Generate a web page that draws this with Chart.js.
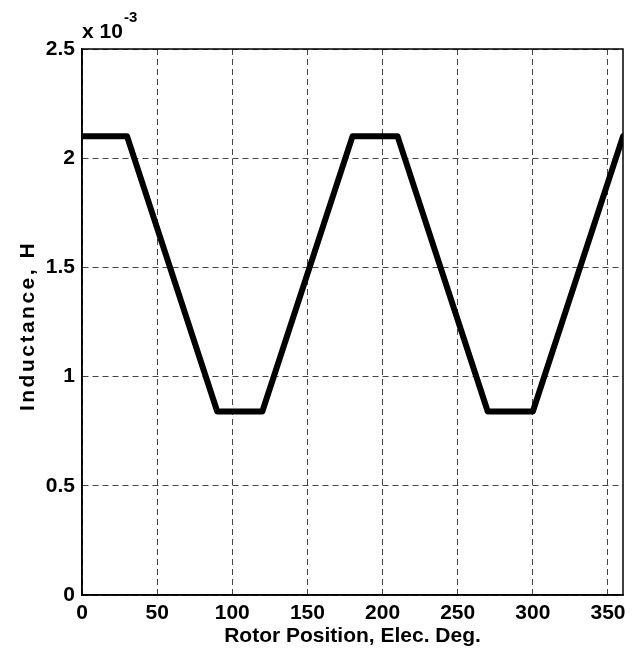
<!DOCTYPE html>
<html>
<head>
<meta charset="utf-8">
<script src="https://cdn.jsdelivr.net/npm/chart.js@4"></script>
<style>
  html, body { margin: 0; padding: 0; background: #fff; }
  #wrap { width: 639px; height: 663px; }
</style>
</head>
<body>
<div id="wrap"><canvas id="indChart" width="639" height="663"></canvas></div>
<script>
// rotor position (elec. deg) and inductance (x 10^-3 H)
const positions = [0, 30, 90, 120, 180, 210, 270, 300, 360];
const inductance = [2.1, 2.1, 0.84, 0.84, 2.1, 2.1, 0.84, 0.84, 2.1];
const xTicks = [0, 50, 100, 150, 200, 250, 300, 350];
const yTicks = [0, 0.5, 1, 1.5, 2, 2.5];

const FONT = "'Liberation Sans', Arial, Helvetica, sans-serif";

// frame, y title and exponent label
const extras = {
    id: 'extras',
    afterDraw(chart) {
        const ctx = chart.ctx;
        const a = chart.chartArea;
        ctx.save();
        ctx.strokeStyle = '#000';
        ctx.lineWidth = 1.5;
        ctx.strokeRect(a.left, a.top, a.right - a.left, a.bottom - a.top);

        ctx.fillStyle = '#000';
        ctx.font = 'bold 21px ' + FONT;
        ctx.textAlign = 'left';
        ctx.textBaseline = 'alphabetic';
        ctx.fillText('x 10', a.left, 38);
        ctx.font = 'bold 15px ' + FONT;
        ctx.fillText('-3', a.left + 42, 22);

        // y title
        ctx.translate(28, (a.top + a.bottom) / 2 + 4);
        ctx.rotate(-Math.PI / 2);
        ctx.font = 'bold 21px ' + FONT;
        ctx.letterSpacing = '2.5px';
        ctx.textAlign = 'center';
        ctx.textBaseline = 'middle';
        ctx.fillText('Inductance, H', 0, 0);
        ctx.restore();
    }
};

new Chart(document.getElementById('indChart'), {
    type: 'line',
    data: {
        datasets: [{
            data: positions.map((x, i) => ({ x: x, y: inductance[i] })),
            borderColor: '#000',
            borderWidth: 6,
            borderJoinStyle: 'round',
            borderCapStyle: 'round',
            pointRadius: 0,
            tension: 0,
            fill: false,
            clip: 0
        }]
    },
    options: {
        responsive: false,
        animation: false,
        layout: { padding: { top: 49, right: 16, left: 0, bottom: 0 } },
        plugins: {
            legend: { display: false },
            tooltip: { enabled: false }
        },
        scales: {
            x: {
                type: 'linear',
                min: 0,
                max: 360,
                afterFit(scale) { scale.height = 68; },
                afterBuildTicks(scale) { scale.ticks = xTicks.map(v => ({ value: v })); },
                grid: { color: '#444', lineWidth: 1, drawTicks: false },
                border: { color: '#000', width: 1.5, dash: [6, 4] },
                ticks: {
                    padding: 6,
                    color: '#000',
                    font: { family: FONT, size: 21, weight: 'bold' },
                    maxRotation: 0
                },
                title: {
                    display: true,
                    text: 'Rotor Position, Elec. Deg.',
                    color: '#000',
                    font: { family: FONT, size: 21, weight: 'bold' },
                    padding: { top: 0, bottom: 14 }
                }
            },
            y: {
                type: 'linear',
                min: 0,
                max: 2.5,
                afterFit(scale) { scale.width = 82; },
                afterBuildTicks(scale) { scale.ticks = yTicks.map(v => ({ value: v })); },
                grid: { color: '#444', lineWidth: 1, drawTicks: false },
                border: { color: '#000', width: 1.5, dash: [6, 4] },
                ticks: {
                    padding: 7,
                    color: '#000',
                    font: { family: FONT, size: 21, weight: 'bold' },
                    callback: v => String(v)
                }
            }
        }
    },
    plugins: [extras]
});
</script>
</body>
</html>
